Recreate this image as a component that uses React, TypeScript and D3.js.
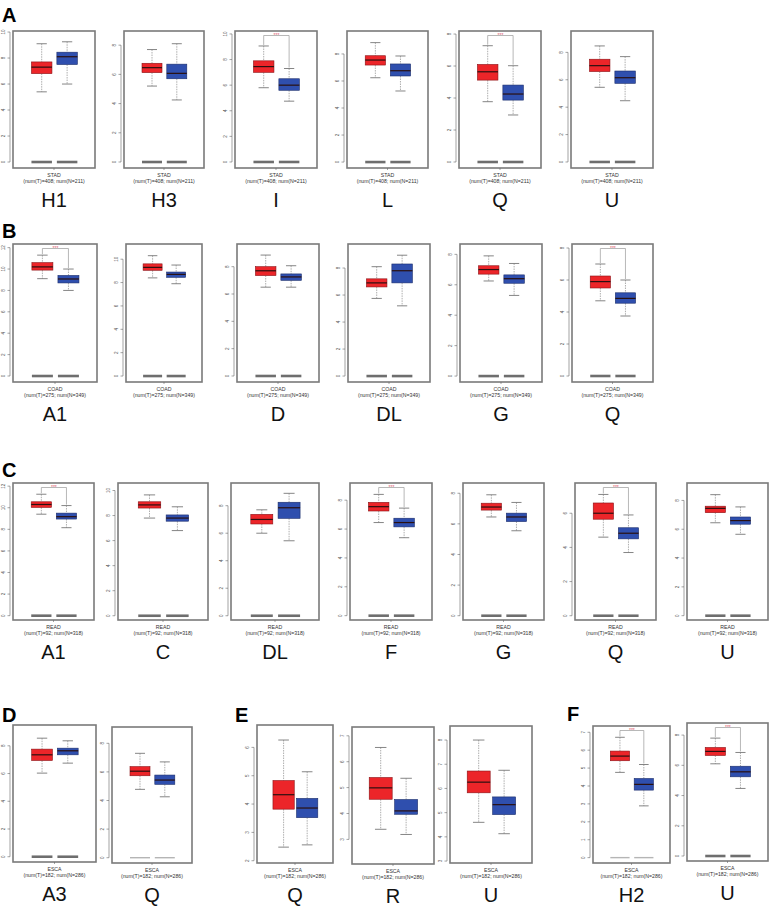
import React from 'react';
import * as d3 from 'd3';

// box stats: [lowWhisker, q1, median, q3, highWhisker]
const stadGenes = ['H1', 'H3', 'I', 'L', 'Q', 'U'];
const stadTumor = [
  [5.4, 6.8, 7.3, 7.7, 9.1], [5.2, 6.12, 6.46, 6.76, 7.7], [5.8, 7.0, 7.45, 7.9, 9.06],
  [6.24, 7.18, 7.55, 7.87, 8.84], [3.77, 5.12, 5.64, 6.1, 7.27], [5.45, 6.6, 7.03, 7.5, 8.47],
];
const stadNormal = [
  [6.0, 7.5, 8.1, 8.45, 9.25], [4.25, 5.7, 6.07, 6.7, 8.1], [4.75, 5.6, 6.0, 6.5, 7.3],
  [5.26, 6.37, 6.76, 7.26, 7.85], [2.94, 3.87, 4.25, 4.81, 6.02], [4.47, 5.74, 6.15, 6.64, 7.69],
];
const stadDomain = [[-0.46, 10.08], [-0.41, 8.97], [-0.47, 10.23], [-0.44, 9.7], [-0.375, 8.19], [-0.44, 9.56]];
const stadTicks = [[0, 2, 4, 6, 8, 10], [0, 2, 4, 6, 8], [0, 2, 4, 6, 8, 10], [0, 2, 4, 6, 8], [0, 2, 4, 6, 8], [0, 2, 4, 6, 8]];
const stadSig = [false, false, true, false, true, false];

const coadGenes = ['A1', '', 'D', 'DL', 'G', 'Q'];
const coadTumor = [
  [9.1, 9.9, 10.2, 10.6, 11.3], [8.4, 9.05, 9.3, 9.6, 10.3], [6.5, 7.35, 7.7, 8.0, 8.85],
  [5.75, 6.6, 6.9, 7.2, 8.1], [6.25, 6.7, 7.0, 7.25, 7.9], [4.7, 5.5, 5.9, 6.25, 7.0],
];
const coadNormal = [
  [8.0, 8.7, 9.07, 9.4, 10.0], [7.9, 8.45, 8.7, 8.9, 9.5], [6.5, 7.0, 7.25, 7.47, 8.07],
  [5.2, 6.9, 7.8, 8.3, 8.95], [5.3, 6.1, 6.4, 6.65, 7.4], [3.75, 4.55, 4.85, 5.2, 6.0],
];
const coadDomain = [[-0.56, 12.34], [-0.51, 11.3], [-0.44, 9.66], [-0.44, 9.78], [-0.39, 8.68], [-0.375, 8.25]];
const coadTicks = [[0, 2, 4, 6, 8, 10, 12], [0, 2, 4, 6, 8, 10], [0, 2, 4, 6, 8], [0, 2, 4, 6, 8], [0, 2, 4, 6, 8], [0, 2, 4, 6, 8]];
const coadSig = [true, false, false, false, false, true];

const readGenes = ['A1', 'C', 'DL', 'F', 'G', 'Q', 'U'];
const readTumor = [
  [9.4, 10.03, 10.3, 10.55, 11.25], [7.8, 8.6, 8.85, 9.1, 9.65], [6.0, 6.67, 7.0, 7.37, 7.7],
  [6.45, 7.25, 7.55, 7.85, 8.4], [6.45, 6.9, 7.1, 7.35, 7.9], [4.6, 5.65, 6.0, 6.6, 7.1],
  [6.45, 7.15, 7.45, 7.6, 8.4],
];
const readNormal = [
  [8.15, 8.95, 9.17, 9.5, 10.2], [6.8, 7.55, 7.8, 8.05, 8.7], [5.45, 7.08, 7.85, 8.25, 8.9],
  [5.4, 6.15, 6.45, 6.75, 7.45], [5.55, 6.15, 6.45, 6.7, 7.4], [3.7, 4.5, 4.83, 5.15, 5.9],
  [5.65, 6.35, 6.6, 6.85, 7.55],
];
const readDomain = [[-0.4, 12.29], [-0.34, 10.6], [-0.31, 9.65], [-0.3, 9.19], [-0.28, 8.67], [-0.25, 7.77], [-0.3, 9.21]];
const readTicks = [[0, 2, 4, 6, 8, 10, 12], [0, 2, 4, 6, 8, 10], [0, 2, 4, 6, 8], [0, 2, 4, 6, 8], [0, 2, 4, 6, 8], [0, 2, 4, 6], [0, 2, 4, 6, 8]];
const readSig = [true, false, false, true, false, true, false];

const escaGenes = ['A3', 'Q', 'Q', 'R', 'U', 'H2', 'U'];
const escaTumor = [
  [6.03, 6.94, 7.35, 7.76, 8.55], [4.78, 5.73, 6.05, 6.37, 7.3], [2.48, 3.82, 4.33, 4.83, 6.26],
  [3.39, 4.55, 4.99, 5.39, 6.55], [4.6, 5.82, 6.26, 6.72, 8.0], [4.76, 5.41, 5.67, 5.95, 6.72],
  [6.1, 6.65, 6.92, 7.18, 7.8],
];
const escaNormal = [
  [6.75, 7.35, 7.64, 7.83, 8.36], [4.26, 5.13, 5.43, 5.78, 6.7], [2.56, 3.52, 3.86, 4.2, 5.14],
  [3.19, 3.97, 4.1, 4.54, 5.36], [4.13, 4.92, 5.33, 5.65, 6.75], [2.89, 3.77, 4.09, 4.42, 5.2],
  [4.47, 5.24, 5.57, 5.94, 6.85],
];
const escaDomain = [[-0.38, 9.5], [-0.37, 9.14], [1.92, 6.79], [2.05, 7.34], [2.92, 8.58], [-0.3, 7.35], [-0.33, 8.8]];
const escaTicks = [[0, 2, 4, 6, 8], [0, 2, 4, 6, 8], [2, 3, 4, 5, 6], [3, 4, 5, 6, 7], [3, 4, 5, 6, 7, 8], [0, 1, 2, 3, 4, 5, 6, 7], [0, 2, 4, 6, 8]];
const escaSig = [false, false, false, false, false, true, true];
const escaZero = ['dark', 'light', '', '', '', 'light', 'dark'];

const datasets = [
  { name: 'STAD', counts: '(num(T)=408; num(N=211)' },
  { name: 'COAD', counts: '(num(T)=275; num(N=349)' },
  { name: 'READ', counts: '(num(T)=92; num(N=318)' },
  { name: 'ESCA', counts: '(num(T)=182; num(N=286)' },
];

// panel frames [x, y, w, h]
const frameA = [[13, 31, 82, 137], [124, 31, 80, 137], [235, 31, 82, 137], [347, 31, 81, 137], [459, 31, 82, 137], [571, 31, 82, 137]];
const frameB = [[13, 244, 84, 138], [126, 244, 76, 138], [237, 244, 82, 138], [348, 244, 82, 138], [460, 244, 82, 138], [572, 244, 81, 138]];
const frameC = [[13, 483, 81, 137], [118, 483, 90, 137], [231, 483, 88, 137], [350, 483, 82, 137], [463, 483, 81, 137], [575, 483, 81, 137], [687, 483, 81, 137]];
const frameD = [[13, 725, 83, 137], [112, 727, 80, 136], [257, 725, 76, 138], [352, 727, 82, 137], [450, 726, 82, 137], [593, 726, 77, 137], [687, 723, 81, 138]];

const RED = '#ec2529';
const BLUE = '#2f4fae';

type Panel = {
  label: string; ds: number; tumor: number[]; normal: number[]; domain: number[];
  ticks: number[]; sig: boolean; zero: string; frame: number[]; boxFrac: number;
};

const panels: Panel[] = [];
const addRow = (genes: string[], t: number[][], n: number[][], dom: number[][], tk: number[][], sig: boolean[], frames: number[][], ds: number, zero?: string[]) => {
  genes.forEach((g, i) => panels.push({
    label: g, ds: ds === 3 ? 3 : ds, tumor: t[i], normal: n[i], domain: dom[i], ticks: tk[i], sig: sig[i],
    zero: zero ? zero[i] : 'dark', frame: frames[i], boxFrac: zero && zero[i] === '' ? 0.28 : 0.25,
  }));
};
addRow(stadGenes, stadTumor, stadNormal, stadDomain, stadTicks, stadSig, frameA, 0);
addRow(coadGenes, coadTumor, coadNormal, coadDomain, coadTicks, coadSig, frameB, 1);
addRow(readGenes, readTumor, readNormal, readDomain, readTicks, readSig, frameC, 2);
addRow(escaGenes, escaTumor, escaNormal, escaDomain, escaTicks, escaSig, frameD, 3, escaZero);

const letters = [
  { t: 'A', x: 2, y: 22 }, { t: 'B', x: 2, y: 238 }, { t: 'C', x: 2, y: 477 },
  { t: 'D', x: 2, y: 722 }, { t: 'E', x: 235, y: 722 }, { t: 'F', x: 567, y: 721 },
];

const BoxPanel = ({ p }: { p: Panel }) => {
  const [fx, fy, fw, fh] = p.frame;
  const y = d3.scaleLinear().domain(p.domain).range([fy + fh, fy]);
  const x = d3.scalePoint<string>().domain(['T', 'N']).range([fx + fw * 0.35, fx + fw * 0.66]);
  const bw = fw * p.boxFrac;
  const groups = [
    { key: 'T', s: p.tumor, fill: RED, stroke: '#8a1216' },
    { key: 'N', s: p.normal, fill: BLUE, stroke: '#1b2d6b' },
  ];
  const axisX = fx - 3;
  const bracketY = fy + 4.5;
  const ds = datasets[p.ds];
  return (
    <g>
      <rect x={fx} y={fy} width={fw} height={fh} fill="#fff" stroke="#7a7a7a" strokeWidth={1.6} />
      {/* y axis */}
      <line x1={axisX} x2={axisX} y1={y(p.ticks[0])} y2={y(p.ticks[p.ticks.length - 1])} stroke="#666" strokeWidth={0.6} />
      {p.ticks.map((t) => (
        <g key={t}>
          <line x1={axisX - 2.5} x2={axisX} y1={y(t)} y2={y(t)} stroke="#666" strokeWidth={0.6} />
          <text transform={`translate(${axisX - 5},${y(t)}) rotate(-90)`} textAnchor="middle" fontSize={4.6}
            fontFamily="Liberation Sans, Arial, sans-serif" fill="#555">{t}</text>
        </g>
      ))}
      {/* zero rows */}
      {p.zero && groups.map((g) => (
        <line key={'z' + g.key} x1={x(g.key)! - bw / 2} x2={x(g.key)! + bw / 2} y1={y(0)} y2={y(0)}
          stroke={p.zero === 'dark' ? '#6e6e6e' : '#b5b5b5'} strokeWidth={p.zero === 'dark' ? 2.6 : 1.4} />
      ))}
      {groups.map((g) => {
        const cx = x(g.key)!;
        const [lo, q1, med, q3, hi] = g.s;
        return (
          <g key={g.key}>
            <line x1={cx} x2={cx} y1={y(hi)} y2={y(q3)} stroke="#777" strokeWidth={0.6} strokeDasharray="1.5,1" />
            <line x1={cx} x2={cx} y1={y(q1)} y2={y(lo)} stroke="#777" strokeWidth={0.6} strokeDasharray="1.5,1" />
            <line x1={cx - bw / 4} x2={cx + bw / 4} y1={y(hi)} y2={y(hi)} stroke="#777" strokeWidth={0.9} />
            <line x1={cx - bw / 4} x2={cx + bw / 4} y1={y(lo)} y2={y(lo)} stroke="#777" strokeWidth={0.9} />
            <rect x={cx - bw / 2} y={y(q3)} width={bw} height={y(q1) - y(q3)} fill={g.fill} stroke={g.stroke} strokeWidth={0.6} />
            <line x1={cx - bw / 2} x2={cx + bw / 2} y1={y(med)} y2={y(med)} stroke="#2a1010" strokeWidth={1.2} />
          </g>
        );
      })}
      {p.sig && (
        <g>
          <path d={`M${x('T')},${y(p.tumor[4]) - 1}V${bracketY}H${x('N')}V${y(p.normal[4]) - 1}`} fill="none" stroke="#9a9a9a" strokeWidth={0.7} />
          <text x={(x('T')! + x('N')!) / 2} y={bracketY + 1.5} textAnchor="middle" fontSize={5}
            fontFamily="Liberation Sans, Arial, sans-serif" fill="#e05a6a">***</text>
        </g>
      )}
      {/* x axis */}
      <line x1={fx + fw / 2} x2={fx + fw / 2} y1={fy + fh} y2={fy + fh + 2} stroke="#666" strokeWidth={0.6} />
      <text x={fx + fw / 2} y={fy + fh + 8.5} textAnchor="middle" fontSize={5.2}
        fontFamily="Liberation Sans, Arial, sans-serif" fill="#333">{ds.name}</text>
      <text x={fx + fw / 2} y={fy + fh + 15} textAnchor="middle" fontSize={5.2}
        fontFamily="Liberation Sans, Arial, sans-serif" fill="#333">{ds.counts}</text>
      <text x={fx + fw / 2} y={fy + fh + 39} textAnchor="middle" fontSize={20}
        fontFamily="Liberation Sans, Arial, sans-serif" fill="#111">{p.label}</text>
    </g>
  );
};

export default function App() {
  return (
    <svg width={773} height={912} style={{ position: 'absolute', left: 0, top: 0, background: '#fff' }}>
      <rect width={773} height={912} fill="#fff" />
      {panels.map((p, i) => <BoxPanel key={i} p={p} />)}
      {letters.map((l) => (
        <text key={l.t} x={l.x} y={l.y} fontSize={20} fontWeight="bold"
          fontFamily="Liberation Sans, Arial, sans-serif" fill="#000">{l.t}</text>
      ))}
    </svg>
  );
}
